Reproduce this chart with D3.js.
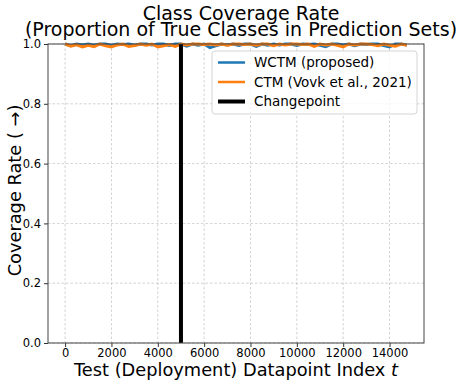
<!DOCTYPE html>
<html>
<head>
<meta charset="utf-8">
<script src="https://cdn.jsdelivr.net/npm/d3@7"></script>
<style>
body { margin: 0; background: #fff; }
text { font-family: "DejaVu Sans", sans-serif; }
</style>
</head>
<body>
<svg id="chart" width="459" height="384"></svg>
<script>
// data: one point every 250 test points
const tIndex = d3.range(0, 14751, 250);
const wctm = [1.0, 0.994, 1.0, 0.997, 1.0, 0.996, 1.0, 1.0, 0.995, 1.0, 0.998, 1.0, 0.996, 1.0, 1.0, 0.997, 1.0, 1.0, 0.995, 1.0,
	1.0, 0.993, 1.0, 0.996, 1.0, 0.988, 0.994, 1.0, 0.997, 1.0, 0.995, 1.0, 1.0, 0.992, 1.0, 0.996, 1.0, 0.997, 1.0, 1.0,
	0.995, 1.0, 0.998, 1.0, 0.996, 0.991, 1.0, 1.0, 0.997, 1.0, 0.994, 1.0, 0.998, 1.0, 1.0, 0.995, 0.99, 1.0, 1.0, 0.997];
const ctm = [1.0, 0.993, 0.997, 0.99, 0.996, 0.991, 1.0, 0.994, 0.99, 0.997, 1.0, 0.992, 0.995, 1.0, 0.996, 1.0, 0.99, 0.994, 0.998, 0.992,
	1.0, 0.997, 1.0, 1.0, 0.998, 1.0, 0.997, 1.0, 0.996, 1.0, 1.0, 0.998, 1.0, 0.996, 1.0, 1.0, 0.994, 1.0, 0.997, 1.0,
	1.0, 0.998, 1.0, 0.992, 1.0, 0.997, 1.0, 0.996, 0.99, 1.0, 0.997, 1.0, 1.0, 0.998, 0.994, 1.0, 0.996, 0.993, 1.0, 0.996];
const changepoint = 5000;
const xTicks = [0, 2000, 4000, 6000, 8000, 10000, 12000, 14000];
const yTicks = [0, 0.2, 0.4, 0.6, 0.8, 1.0];
const legendLabels = ["WCTM (proposed)", "CTM (Vovk et al., 2021)", "Changepoint"];
const legendColors = ["#1f77b4", "#ff7f0e", "#000000"];

const margin = {top: 44, right: 35, bottom: 41, left: 48};
const width = 459 - margin.left - margin.right;
const height = 384 - margin.top - margin.bottom;

const svg = d3.select("#chart");
const g = svg.append("g")
	.attr("transform", "translate(" + margin.left + "," + margin.top + ")");

const tMax = d3.max(tIndex);
const pad = tMax * 0.05;
let x = d3.scaleLinear().domain([0 - pad, tMax + pad]).range([0, width]);
let y = d3.scaleLinear().domain([0, 1]).range([height, 0]);

// grid
g.append("g").selectAll("line")
	.data(xTicks).enter().append("line")
	.attr("x1", d => x(d)).attr("x2", d => x(d))
	.attr("y1", 0).attr("y2", height)
	.attr("stroke", "#b0b0b0").attr("stroke-width", 0.8)
	.attr("stroke-dasharray", "2.5,2").attr("opacity", 0.7);
g.append("g").selectAll("line")
	.data(yTicks).enter().append("line")
	.attr("x1", 0).attr("x2", width)
	.attr("y1", d => y(d)).attr("y2", d => y(d))
	.attr("stroke", "#b0b0b0").attr("stroke-width", 0.8)
	.attr("stroke-dasharray", "2.5,2").attr("opacity", 0.7);

// lines
const line = (vals) => d3.line().x((d, i) => x(tIndex[i])).y(d => y(d))(vals);
g.append("path").attr("d", line(wctm))
	.attr("fill", "none").attr("stroke", legendColors[0]).attr("stroke-width", 3);
g.append("path").attr("d", line(ctm))
	.attr("fill", "none").attr("stroke", legendColors[1]).attr("stroke-width", 3);

g.append("line")
	.attr("x1", x(changepoint)).attr("x2", x(changepoint))
	.attr("y1", 0).attr("y2", height)
	.attr("stroke", "black").attr("stroke-width", 4);

// axes
const xAxis = g.append("g")
	.attr("transform", "translate(0," + height + ")")
	.call(d3.axisBottom(x).tickValues(xTicks).tickSize(4).tickPadding(2).tickFormat(d3.format("d")));
const yAxis = g.append("g")
	.call(d3.axisLeft(y).tickValues(yTicks).tickSize(4).tickPadding(3).tickFormat(d3.format(".1f")));
[xAxis, yAxis].forEach(a => {
	a.selectAll("text").style("font-size", "11.5px").attr("fill", "#000");
	a.selectAll("line").attr("stroke", "#333");
	a.select(".domain").remove();
});

// frame
g.append("rect")
	.attr("x", 0).attr("y", 0).attr("width", width).attr("height", height)
	.attr("fill", "none").attr("stroke", "#444").attr("stroke-width", 1);

// legend
const legend = g.append("g").attr("transform", "translate(164,7)");
legend.append("rect")
	.attr("width", 205).attr("height", 63).attr("rx", 3)
	.attr("fill", "white").attr("fill-opacity", 0.8)
	.attr("stroke", "#d5d5d5");
legendLabels.forEach((lab, i) => {
	legend.append("line")
		.attr("x1", 6).attr("x2", 33)
		.attr("y1", 11.5 + i * 19.5).attr("y2", 11.5 + i * 19.5)
		.attr("stroke", legendColors[i]).attr("stroke-width", i == 2 ? 4 : 2.5);
	legend.append("text")
		.attr("x", 42).attr("y", 11.5 + i * 19.5).attr("dy", "0.35em")
		.style("font-size", "13.5px")
		.text(lab);
});

// titles
svg.append("text")
	.attr("x", 241).attr("y", 20).attr("text-anchor", "middle")
	.style("font-size", "19px").text("Class Coverage Rate");
svg.append("text")
	.attr("x", 241).attr("y", 36).attr("text-anchor", "middle")
	.style("font-size", "19px").text("(Proportion of True Classes in Prediction Sets)");

svg.append("text")
	.attr("x", margin.left + width / 2).attr("y", 376).attr("text-anchor", "middle")
	.style("font-size", "17.8px")
	.html('Test (Deployment) Datapoint Index <tspan font-style="italic">t</tspan>');

svg.append("text")
	.attr("transform", "translate(21," + (margin.top + height / 2 - 3) + ") rotate(-90)")
	.attr("text-anchor", "middle")
	.style("font-size", "17.8px")
	.text("Coverage Rate ( \u2192)");
</script>
</body>
</html>
